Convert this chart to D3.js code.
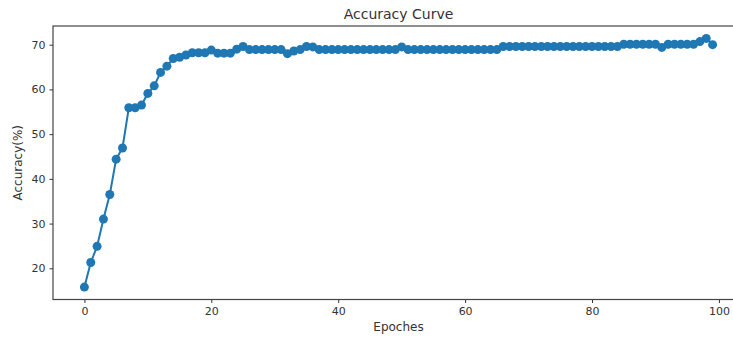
<!DOCTYPE html>
<head>
<meta charset="utf-8">
<title>Accuracy Curve</title>
<script src="https://cdn.jsdelivr.net/npm/d3@7"></script>
<style>
  body { margin: 0; background: #fff; }
  text { font-family: "DejaVu Sans", sans-serif; fill: #333; }
</style>
</head>
<body>
<div id="container"></div>
<script>

// Données (précision en %, une valeur par époque)
const accuracy = [
  15.8, 21.3, 24.9, 31.0, 36.5, 44.4, 46.9, 55.9, 55.9, 56.5,
  59.1, 60.8, 63.8, 65.2, 66.9, 67.2, 67.7, 68.2, 68.2, 68.2,
  68.8, 68.1, 68.1, 68.1, 69.0, 69.6, 68.9, 68.9, 68.9, 68.9,
  68.9, 68.9, 68.0, 68.6, 68.9, 69.6, 69.5, 68.9, 68.9, 68.9,
  68.9, 68.9, 68.9, 68.9, 68.9, 68.9, 68.9, 68.9, 68.9, 68.9,
  69.5, 68.9, 68.9, 68.9, 68.9, 68.9, 68.9, 68.9, 68.9, 68.9,
  68.9, 68.9, 68.9, 68.9, 68.9, 68.9, 69.6, 69.6, 69.6, 69.6,
  69.6, 69.6, 69.6, 69.6, 69.6, 69.6, 69.6, 69.6, 69.6, 69.6,
  69.6, 69.6, 69.6, 69.6, 69.6, 70.1, 70.1, 70.1, 70.1, 70.1,
  70.1, 69.4, 70.1, 70.1, 70.1, 70.1, 70.1, 70.7, 71.4, 70.0
];
const epochs = accuracy.map((d, i) => i);
const xTicks = [0, 20, 40, 60, 80, 100];
const yTicks = [20, 30, 40, 50, 60, 70];

const W = 733, H = 338;
const plotLeft = 53, plotRight = 744, plotTop = 26, plotBottom = 299.5;

const svg = d3.select("#container")
  .append("svg")
  .attr("width", W)
  .attr("height", H);

// Échelles avec marges de 5% comme matplotlib
const xMin = d3.min(epochs), xMax = d3.max(epochs);
const xPad = (xMax - xMin) * 0.05;
const x = d3.scaleLinear()
  .domain([xMin - xPad, xMax + xPad])
  .range([plotLeft, plotRight]);

const yMin = d3.min(accuracy), yMax = d3.max(accuracy);
const yPad = (yMax - yMin) * 0.05;
const y = d3.scaleLinear()
  .domain([yMin - yPad, yMax + yPad])
  .range([plotBottom, plotTop]);

const color = "#1f77b4";

// Courbe
const line = d3.line()
  .x((d, i) => x(epochs[i]))
  .y(d => y(d));

svg.append("path")
  .datum(accuracy)
  .attr("fill", "none")
  .attr("stroke", color)
  .attr("stroke-width", 2)
  .attr("d", line);

svg.selectAll(".pt")
  .data(accuracy)
  .enter().append("circle")
  .attr("class", "pt")
  .attr("cx", (d, i) => x(epochs[i]))
  .attr("cy", d => y(d))
  .attr("r", 4.5)
  .attr("fill", color);

// Axes
const xAxis = svg.append("g")
  .attr("transform", `translate(0,${plotBottom})`)
  .call(d3.axisBottom(x).tickValues(xTicks).tickSize(3.5).tickSizeOuter(0).tickPadding(4));

const yAxis = svg.append("g")
  .attr("transform", `translate(${plotLeft},0)`)
  .call(d3.axisLeft(y).tickValues(yTicks).tickSize(3.5).tickSizeOuter(0).tickPadding(4));

[xAxis, yAxis].forEach(g => {
  g.select(".domain").remove();
  g.selectAll("line").attr("stroke", "#333");
  g.selectAll("text").style("font-size", "11px").attr("fill", "#333");
});

// Cadre
svg.append("rect")
  .attr("x", plotLeft)
  .attr("y", plotTop)
  .attr("width", plotRight - plotLeft)
  .attr("height", plotBottom - plotTop)
  .attr("fill", "none")
  .attr("stroke", "#444")
  .attr("stroke-width", 1.2);

// Titres
svg.append("text")
  .attr("x", (plotLeft + plotRight) / 2)
  .attr("y", 19)
  .attr("text-anchor", "middle")
  .style("font-size", "14px")
  .text("Accuracy Curve");

svg.append("text")
  .attr("x", (plotLeft + plotRight) / 2)
  .attr("y", 331)
  .attr("text-anchor", "middle")
  .style("font-size", "12px")
  .text("Epoches");

svg.append("text")
  .attr("transform", `translate(22,${(plotTop + plotBottom) / 2}) rotate(-90)`)
  .attr("text-anchor", "middle")
  .style("font-size", "12px")
  .text("Accuracy(%)");

</script>
</body>
